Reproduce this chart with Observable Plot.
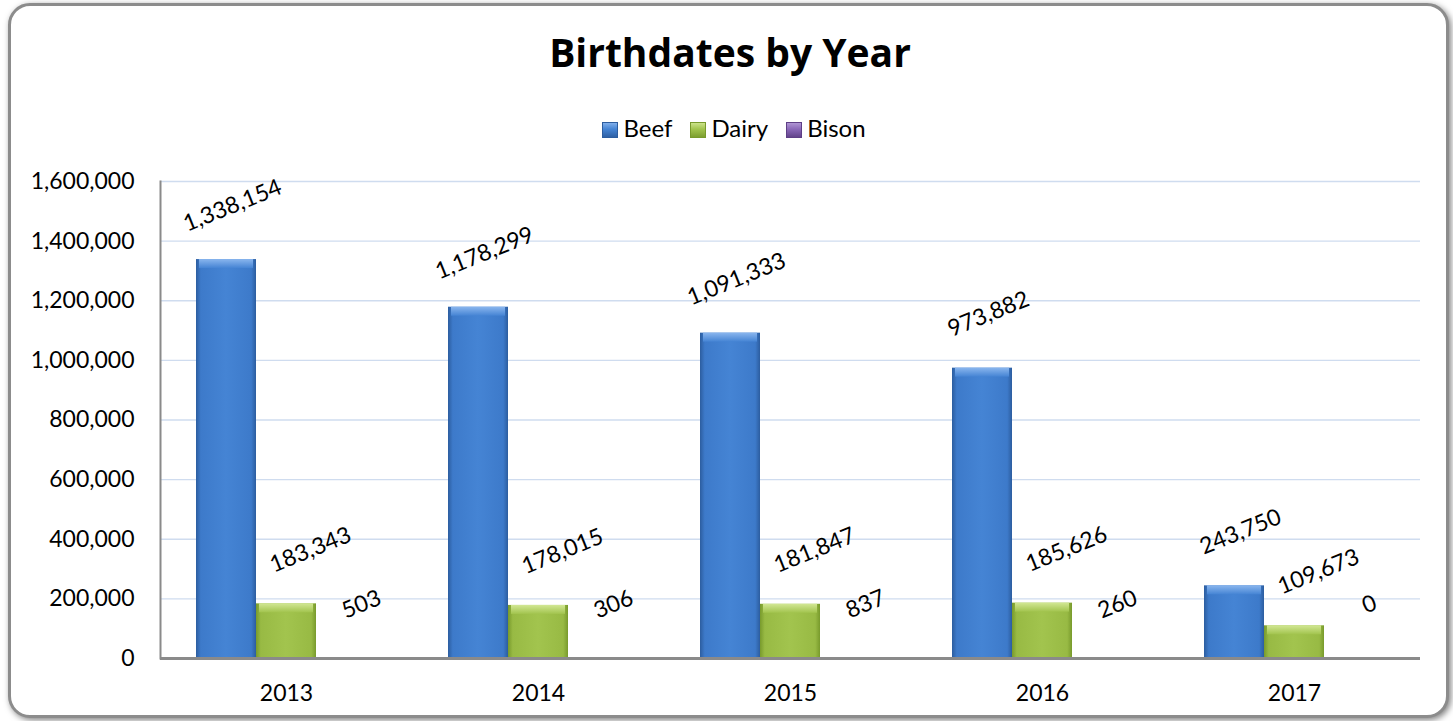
<!DOCTYPE html>
<html>
<head>
<meta charset="utf-8">
<script src="https://cdn.jsdelivr.net/npm/d3@7"></script>
<script src="https://cdn.jsdelivr.net/npm/@observablehq/plot@0.6"></script>
<style>
  html, body { margin: 0; padding: 0; background: #ffffff; width: 1453px; height: 721px; overflow: hidden; font-family: Lato, "Open Sans", sans-serif; }
  #frame { position: absolute; left: 8px; top: 3px; width: 1435px; height: 709px; border: 3px solid #8c8c8c; border-radius: 22px; box-shadow: 2px 2px 6px rgba(0,0,0,0.5); background: #fff; }
  #title { position: absolute; left: 0; top: 28px; width: 1460px; text-align: center; font-family: "Open Sans", Lato, sans-serif; font-weight: bold; font-size: 39px; line-height: 48px; color: #000; }
  #legend { position: absolute; left: 0; top: 115px; width: 1468px; text-align: center; font-size: 24px; line-height: 26px; color: #000; white-space: nowrap; }
  #legend .item { display: inline-block; margin: 0 9px; }
  #legend .sw { display: inline-block; width: 16px; height: 16px; margin-right: 5px; vertical-align: -1px; }
  #chart { position: absolute; left: 0; top: 150px; }
</style>
</head>
<body>
<div id="frame"></div>
<div id="title">Birthdates by Year</div>
<div id="legend"></div>
<div id="chart"></div>
<script>
const years = ["2013", "2014", "2015", "2016", "2017"];
const beef = [1338154, 1178299, 1091333, 973882, 243750];
const dairy = [183343, 178015, 181847, 185626, 109673];
const bison = [503, 306, 837, 260, 0];
const seriesNames = ["Beef", "Dairy", "Bison"];
const yTicks = [0, 200000, 400000, 600000, 800000, 1000000, 1200000, 1400000, 1600000];

const rows = years.map((year, i) => ({year, Beef: beef[i], Dairy: dairy[i], Bison: bison[i]}));
const fmt = d3.format(",");

const palette = {
  Beef:  {edge: "#2c5d9f", mid: "#4584d4", light: "#3d7aca", top: "#8ab6ee"},
  Dairy: {edge: "#789a2c", mid: "#a2c44e", light: "#98ba44", top: "#d2e794"},
  Bison: {edge: "#5e3f86", mid: "#8a68b8", light: "#7f5dab", top: "#b59cd8"}
};

// legend
const legend = document.getElementById("legend");
seriesNames.forEach(s => {
  const c = palette[s];
  const it = document.createElement("span");
  it.className = "item";
  it.innerHTML = `<span class="sw" style="background:linear-gradient(180deg, ${c.top} 0%, ${c.mid} 45%, ${c.edge} 100%); box-shadow: inset 0 0 0 1px ${c.edge};"></span>${s}`;
  legend.appendChild(it);
});

const bw = 60;           // bar width in px
const inset = (252 - bw) / 2;
const labelDx = {Beef: 6, Dairy: 24, Bison: 15};

const marks = [
  Plot.ruleY(yTicks, {stroke: "#cfdcef", strokeWidth: 1.3})
];
seriesNames.forEach((s, k) => {
  const off = (k - 1) * bw;
  marks.push(Plot.barY(rows, {x: "year", y: s, fill: `url(#grad-${s})`, insetLeft: inset, insetRight: inset, dx: off}));
  if (s !== "Bison") {
    marks.push(Plot.barY(rows, {x: "year", y1: s, y2: s, insetBottom: -9, insetLeft: inset + 3, insetRight: inset + 3, dx: off, fill: `url(#top-${s})`}));
  }
});
marks.push(Plot.frame({anchor: "left", stroke: "#8a8a8a", strokeWidth: 2}));
marks.push(Plot.ruleY([0], {stroke: "#8a8a8a", strokeWidth: 3}));
seriesNames.forEach((s, k) => {
  const off = (k - 1) * bw;
  marks.push(Plot.text(rows, {x: "year", y: s, text: d => fmt(d[s]), dx: off + labelDx[s], dy: -54, rotate: -22, fontSize: 23, fill: "#000"}));
});

const svg = Plot.plot({
  width: 1453,
  height: 565,
  marginLeft: 160,
  marginRight: 33,
  marginTop: 31,
  marginBottom: 57,
  style: {fontFamily: "Lato, 'Open Sans', sans-serif", fontSize: "23px", color: "#000", background: "transparent"},
  x: {domain: years, padding: 0, tickSize: 0, tickPadding: 26, label: null},
  y: {domain: [0, 1600000], ticks: yTicks, tickFormat: fmt, tickSize: 0, tickPadding: 26, label: null},
  marks
});

// gradients
const defs = d3.select(svg).insert("defs", ":first-child");
seriesNames.forEach(s => {
  const c = palette[s];
  const g = defs.append("linearGradient").attr("id", `grad-${s}`).attr("x1", "0").attr("x2", "1").attr("y1", "0").attr("y2", "0");
  [[0, c.edge], [0.08, c.light], [0.5, c.mid], [0.92, c.light], [1, c.edge]].forEach(([o, col]) =>
    g.append("stop").attr("offset", o).attr("stop-color", col));
  const t = defs.append("linearGradient").attr("id", `top-${s}`).attr("x1", "0").attr("x2", "0").attr("y1", "0").attr("y2", "1");
  [[0, c.top], [1, c.mid]].forEach(([o, col]) =>
    t.append("stop").attr("offset", o).attr("stop-color", col));
});

document.getElementById("chart").appendChild(svg);
</script>
</body>
</html>
